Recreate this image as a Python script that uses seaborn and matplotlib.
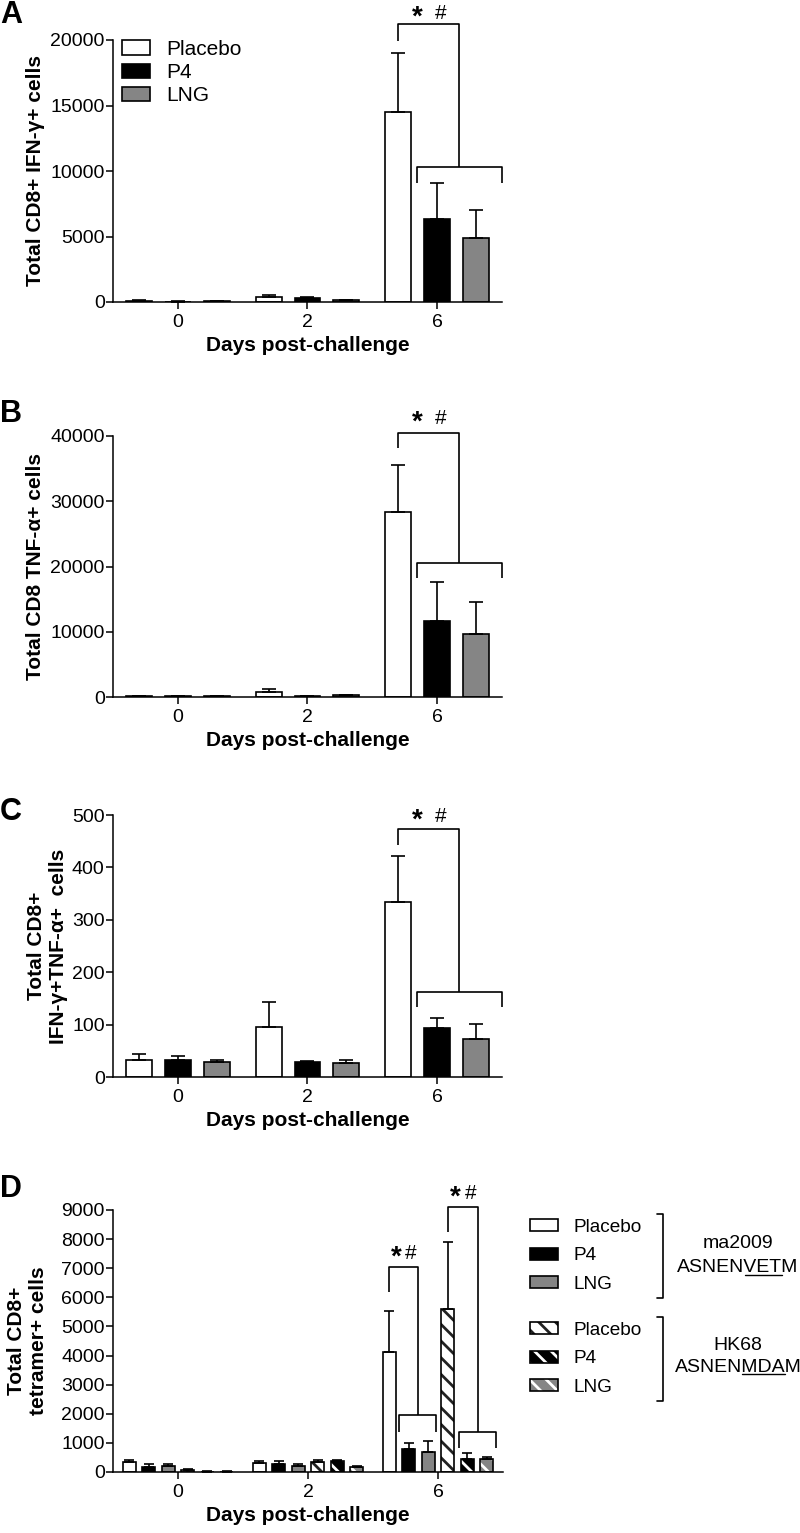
import numpy as np
import pandas as pd
import matplotlib.pyplot as plt
from matplotlib.patches import Patch, Rectangle
from matplotlib.lines import Line2D
from matplotlib.legend_handler import HandlerTuple
import seaborn as sns

# --- values (mean and upper error) ---
days = ["0", "2", "6"]
treatments = ["Placebo", "P4", "LNG"]

# A: total CD8+ IFN-g+ cells
ifng_placebo = [80, 380, 14500]
ifng_p4 = [30, 300, 6300]
ifng_lng = [50, 120, 4900]
ifng_placebo_err = [40, 140, 4500]
ifng_p4_err = [20, 80, 2800]
ifng_lng_err = [20, 50, 2100]

# B: total CD8 TNF-a+ cells
tnf_placebo = [150, 800, 28400]
tnf_p4 = [100, 100, 11600]
tnf_lng = [80, 300, 9700]
tnf_placebo_err = [50, 400, 7100]
tnf_p4_err = [30, 30, 6000]
tnf_lng_err = [20, 50, 4800]

# C: total CD8+ IFN-g+TNF-a+ cells
dual_placebo = [32, 96, 334]
dual_p4 = [32, 28, 93]
dual_lng = [28, 27, 73]
dual_placebo_err = [11, 47, 88]
dual_p4_err = [9, 2, 20]
dual_lng_err = [5, 6, 28]

# D: total CD8+ tetramer+ cells, two epitopes
tet_groups = ["Placebo ma2009", "P4 ma2009", "LNG ma2009",
              "Placebo HK68", "P4 HK68", "LNG HK68"]
tet_placebo_ma = [327, 310, 4130]
tet_p4_ma = [172, 287, 780]
tet_lng_ma = [218, 195, 688]
tet_placebo_hk = [69, 356, 5600]
tet_p4_hk = [15, 378, 459]
tet_lng_hk = [15, 170, 447]
tet_placebo_ma_err = [86, 68, 1410]
tet_p4_ma_err = [92, 103, 218]
tet_lng_ma_err = [69, 80, 367]
tet_placebo_hk_err = [23, 40, 2310]
tet_p4_hk_err = [5, 46, 195]
tet_lng_hk_err = [5, 23, 69]

# --- style ---
sns.set_theme(style="ticks")
plt.rcParams["font.family"] = ["Liberation Sans", "DejaVu Sans"]
plt.rcParams["hatch.linewidth"] = 2.0
plt.rcParams["axes.edgecolor"] = "black"
plt.rcParams["xtick.color"] = "black"
plt.rcParams["ytick.color"] = "black"
plt.rcParams["xtick.labelsize"] = 14
plt.rcParams["ytick.labelsize"] = 14
plt.rcParams["text.color"] = "black"
plt.rcParams["axes.labelcolor"] = "black"

fill_colors = ["white", "black", "#858585"]
stripe_colors = ["#222222", "white", "white"]
HATCH = "\\\\"

W, H = 800, 1533
fig = plt.figure(figsize=(W / 100, H / 100), dpi=100)


def px_axes(left, top, right, bottom):
    return fig.add_axes([left / W, 1 - bottom / H, (right - left) / W, (bottom - top) / H])


def bar_panel(ax, means, errs, levels, colors, capsize):
    rows = []
    for lev, vals in zip(levels, means):
        for d, v in zip(days, vals):
            rows.append({"day": d, "group": lev, "cells": v})
    df = pd.DataFrame(rows)
    sns.barplot(data=df, x="day", y="cells", hue="group", order=days, hue_order=levels,
                palette=dict(zip(levels, colors)), width=0.9, gap=1 / 3, errorbar=None,
                edgecolor="black", linewidth=1.2, legend=False, ax=ax)
    bars = list(ax.containers)
    for cont, vals, ev in zip(bars, means, errs):
        xs = [p.get_x() + p.get_width() / 2 for p in cont]
        ax.errorbar(xs, vals, yerr=[np.zeros(len(vals)), ev], fmt="none", ecolor="black",
                    elinewidth=1.2, capsize=capsize, capthick=1.2, zorder=3)
    ax.set_xlim(-0.5, 2.5)
    sns.despine(ax=ax)
    for s in ["left", "bottom"]:
        ax.spines[s].set_linewidth(1.1)
    ax.set_xlabel("Days post-challenge", fontsize=15, fontweight="bold")
    return bars


def finish_ticks(ax, top, step):
    ax.set_ylim(0, top)
    ax.set_yticks(np.arange(0, top + 1, step))
    ax.tick_params(axis="both", labelsize=14, length=5, width=1.1, colors="black")
    ax.tick_params(axis="y", pad=1)


def hatch_bars(ax, cont, stripe):
    for p in cont:
        p.set_hatch(HATCH)
        p.set_edgecolor(stripe)
        p.set_linewidth(0)
        ax.add_patch(Rectangle((p.get_x(), p.get_y()), p.get_width(), p.get_height(),
                               fill=False, edgecolor="black", linewidth=1.2, zorder=2))


def center(p):
    return p.get_x() + p.get_width() / 2


def bracket(ax, ref, lo_a, lo_b, pad_l, pad_r, top, ref_leg, low, low_leg, star_y, dx):
    x0 = center(ref)
    xa = lo_a.get_x() - pad_l
    xb = lo_b.get_x() + lo_b.get_width() + pad_r
    xm = (xa + xb) / 2
    kw = dict(color="black", lw=1.2, clip_on=False, solid_capstyle="butt")
    ax.plot([x0, x0, xm, xm], [ref_leg, top, top, low], **kw)
    ax.plot([xa, xa, xb, xb], [low_leg, low, low, low_leg], **kw)
    xs = (x0 + xm) / 2
    ax.annotate("*", xy=(xs, star_y), xytext=(-dx, -4), textcoords="offset points",
                ha="center", va="baseline", fontsize=20, fontweight="bold", annotation_clip=False)
    ax.annotate("#", xy=(xs, star_y), xytext=(dx, 0), textcoords="offset points",
                ha="center", va="baseline", fontsize=15, annotation_clip=False)


def ylabel_at(ax, text, xpx):
    ax.set_ylabel(text, fontsize=15, fontweight="bold", va="center", ha="center")
    ax.yaxis.set_label_coords((xpx - 113) / 390, 0.5)


# --- A ---
axA = px_axes(113, 40, 502, 302)
bA = bar_panel(axA, [ifng_placebo, ifng_p4, ifng_lng],
               [ifng_placebo_err, ifng_p4_err, ifng_lng_err], treatments, fill_colors, 5)
finish_ticks(axA, 20000, 5000)
ylabel_at(axA, "Total CD8+ IFN-γ+ cells", 35)
bracket(axA, bA[0][2], bA[1][2], bA[2][2], 0.057, 0.097, 21200, 19950, 10300, 9100, 21580, 8.3)
handles = [Patch(facecolor=c, edgecolor="black", linewidth=1.2) for c in fill_colors]
axA.legend(handles, treatments, loc="upper left", bbox_to_anchor=(9 / 389, 1.0), frameon=False,
           fontsize=15, handlelength=1.35, handleheight=0.7, handletextpad=0.75,
           labelspacing=0.2, borderpad=0, borderaxespad=0)

# --- B ---
axB = px_axes(113, 436, 502, 697)
bB = bar_panel(axB, [tnf_placebo, tnf_p4, tnf_lng],
               [tnf_placebo_err, tnf_p4_err, tnf_lng_err], treatments, fill_colors, 5)
finish_ticks(axB, 40000, 10000)
ylabel_at(axB, "Total CD8 TNF-α+ cells", 35)
bracket(axB, bB[0][2], bB[1][2], bB[2][2], 0.057, 0.097, 40500, 38100, 20500, 18200, 41800, 8.3)

# --- C ---
axC = px_axes(113, 815, 502, 1077)
bC = bar_panel(axC, [dual_placebo, dual_p4, dual_lng],
               [dual_placebo_err, dual_p4_err, dual_lng_err], treatments, fill_colors, 5)
finish_ticks(axC, 500, 100)
ylabel_at(axC, "Total CD8+\nIFN-γ+TNF-α+  cells", 47)
bracket(axC, bC[0][2], bC[1][2], bC[2][2], 0.057, 0.097, 473, 442, 162, 134, 486, 8.3)

# --- D ---
axD = px_axes(113, 1210, 503, 1472)
d_means = [tet_placebo_ma, tet_p4_ma, tet_lng_ma, tet_placebo_hk, tet_p4_hk, tet_lng_hk]
d_errs = [tet_placebo_ma_err, tet_p4_ma_err, tet_lng_ma_err,
          tet_placebo_hk_err, tet_p4_hk_err, tet_lng_hk_err]
bD = bar_panel(axD, d_means, d_errs, tet_groups, fill_colors * 2, 3.5)
for cont, stripe in zip(bD[3:], stripe_colors):
    hatch_bars(axD, cont, stripe)
finish_ticks(axD, 9000, 1000)
ylabel_at(axD, "Total CD8+\ntetramer+ cells", 27)
bracket(axD, bD[0][2], bD[1][2], bD[2][2], 0.026, 0.012, 7030, 6170, 1950, 1376, 7305, 5.4)
bracket(axD, bD[3][2], bD[4][2], bD[5][2], 0.014, 0.024, 9105, 8257, 1376, 837, 9370, 5.4)

# D legend: two blocks with brackets and epitope names
plain = [Patch(facecolor=c, edgecolor="black", linewidth=1.2) for c in fill_colors]
striped = [(Patch(facecolor=c, edgecolor=s, hatch=HATCH, linewidth=0),
            Patch(facecolor="none", edgecolor="black", linewidth=1.2))
           for c, s in zip(fill_colors, stripe_colors)]
leg_kw = dict(loc="upper left", frameon=False, fontsize=13.7, handlelength=1.45,
              handleheight=0.6, handletextpad=0.85, labelspacing=0.6, borderpad=0,
              borderaxespad=0)
fig.legend(plain, treatments, bbox_to_anchor=(530 / W, 1 - 1219 / H), **leg_kw)
fig.legend(striped, treatments, bbox_to_anchor=(530 / W, 1 - 1322 / H),
           handler_map={tuple: HandlerTuple(ndivide=1, pad=0)}, **leg_kw)

for y0, y1 in [(1214, 1298), (1317, 1401)]:
    fig.add_artist(Line2D([657 / W, 663 / W, 663 / W, 657 / W],
                          [1 - y0 / H, 1 - y0 / H, 1 - y1 / H, 1 - y1 / H],
                          color="black", lw=1.2))

fig.text(738 / W, 1 - 1243 / H, "ma2009", ha="center", va="center", fontsize=14)
fig.text(738 / W, 1 - 1345 / H, "HK68", ha="center", va="center", fontsize=14)
renderer = fig.canvas.get_renderer()
for seq, ul, ypx in [("ASNENVETM", (5, 8), 1268), ("ASNENMDAM", (5, 8), 1367)]:
    t = fig.text(738 / W, 1 - ypx / H, seq, ha="center", va="center", fontsize=14)
    bb = t.get_window_extent(renderer)
    parts = []
    for n in ul:
        tmp = fig.text(0, 0, seq[:n], fontsize=14)
        parts.append(tmp.get_window_extent(renderer).width)
        tmp.remove()
    ux0 = (bb.x0 + parts[0]) / W
    ux1 = (bb.x0 + parts[1]) / W
    uy = (bb.y0 + 2) / H
    fig.add_artist(Line2D([ux0, ux1], [uy, uy], color="black", lw=1.0))

# panel letters
for letter, base in [("A", 23), ("B", 422), ("C", 820), ("D", 1197)]:
    fig.text(0, 1 - base / H, letter, fontsize=22, fontweight="bold", ha="left", va="baseline")

fig.savefig("out.png", dpi=100)
